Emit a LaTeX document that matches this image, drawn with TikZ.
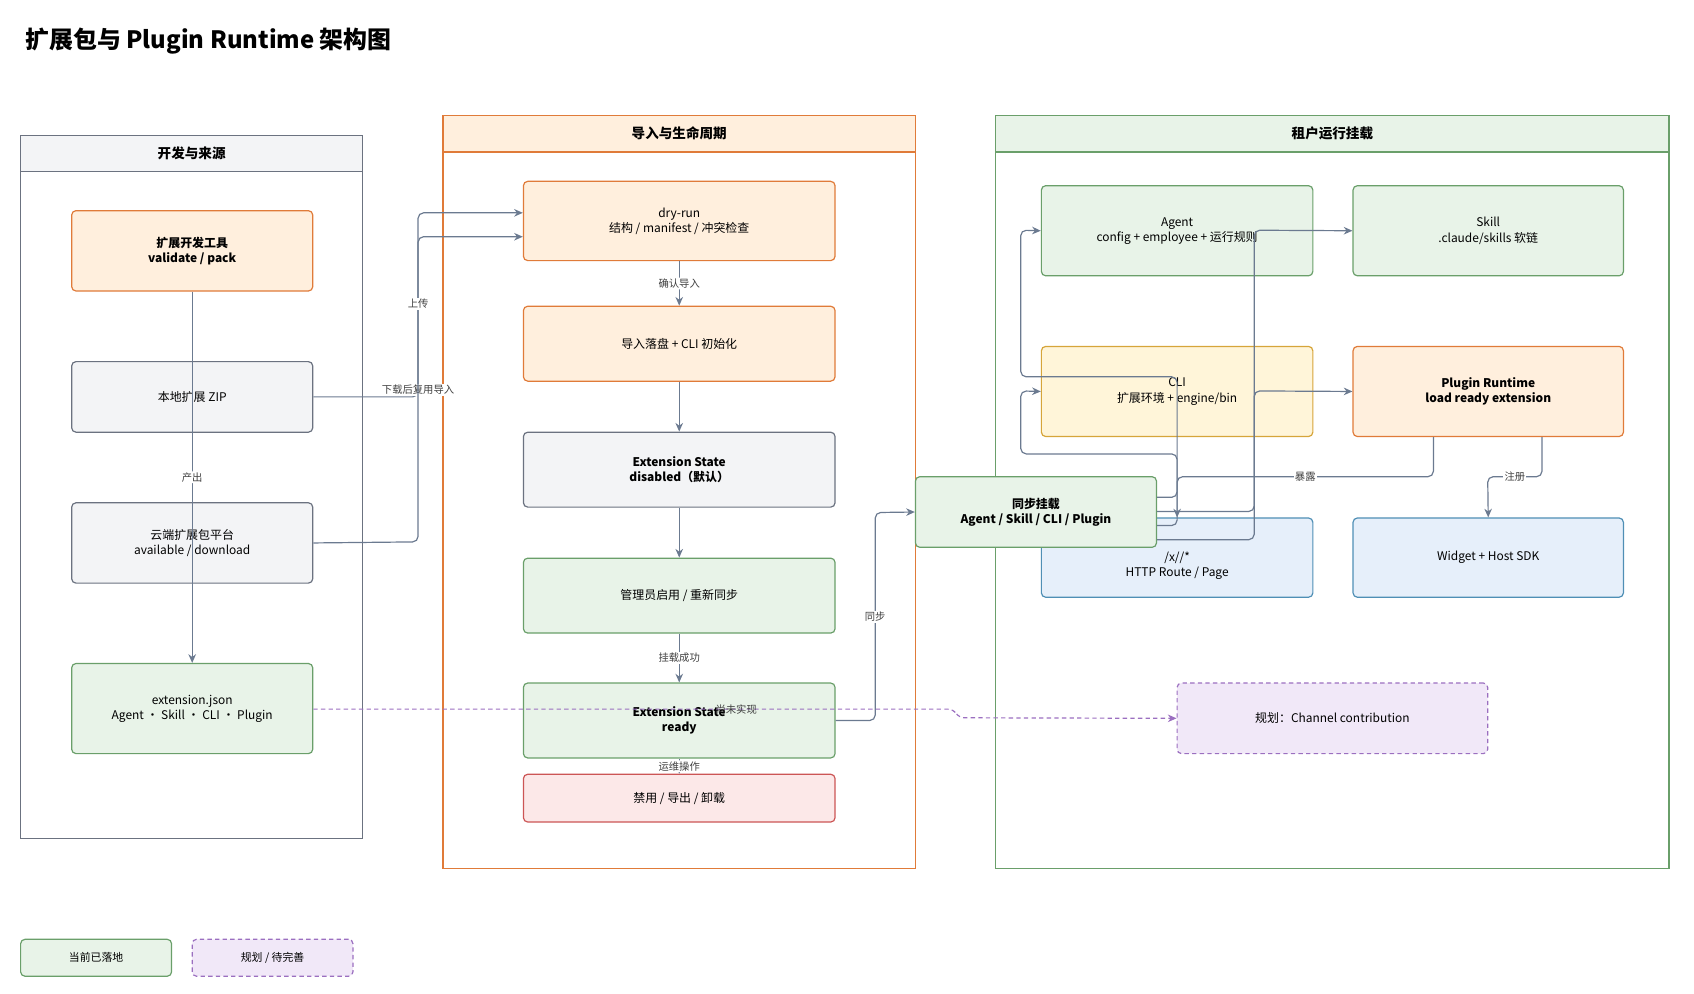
\documentclass[tikz,border=0pt]{standalone}
\usepackage{fontspec}
\setmainfont{Noto Sans CJK SC}
\usetikzlibrary{arrows.meta}
\definecolor{eg}{HTML}{6B7A90}
\definecolor{gF}{HTML}{E8F3E8}\definecolor{gD}{HTML}{6A9F6A}
\definecolor{oF}{HTML}{FFEFDD}\definecolor{oD}{HTML}{E07B39}
\definecolor{yF}{HTML}{FFF5D9}\definecolor{yD}{HTML}{D6A53A}
\definecolor{bF}{HTML}{E6EFFA}\definecolor{bD}{HTML}{4F8FB5}
\definecolor{rF}{HTML}{FCE8E8}\definecolor{rD}{HTML}{CC5555}
\definecolor{sF}{HTML}{F3F4F6}\definecolor{sD}{HTML}{6B7280}
\definecolor{pF}{HTML}{F1E8F8}\definecolor{pD}{HTML}{9B6FC0}
\tikzset{
 bx/.style={draw, rounded corners=4pt, line width=1.1pt, align=center, font=\fontsize{11}{14}\selectfont, inner sep=0pt},
 gb/.style={bx, fill=gF, draw=gD}, ob/.style={bx, fill=oF, draw=oD},
 yb/.style={bx, fill=yF, draw=yD}, bb/.style={bx, fill=bF, draw=bD},
 rb/.style={bx, fill=rF, draw=rD}, sb/.style={bx, fill=sF, draw=sD},
 pb/.style={bx, fill=pF, draw=pD, dash pattern=on 4pt off 3pt},
 bold/.style={font=\fontsize{11}{14}\selectfont\bfseries},
 ed/.style={draw=eg, line width=1.1pt, rounded corners=5pt, -{Stealth[length=8pt,width=7pt]}},
 lb/.style={fill=white, inner sep=1pt, font=\fontsize{9.5}{11}\selectfont, text=black!75},
 ph/.style={font=\fontsize{12.5}{15}\selectfont\bfseries},
}
\begin{document}
\begin{tikzpicture}[x=1pt,y=-1pt]
\useasboundingbox (0,0) rectangle (1560,915);
\node[anchor=west, font=\fontsize{22}{26}\selectfont\bfseries] (title) at (20,38) {扩展包与 Plugin Runtime 架构图};
% panels
\draw[draw=sD, line width=1.1pt] (19,125) rectangle (334,772);
\draw[draw=sD, fill=sF, line width=1.1pt] (19,125) rectangle (334,158);
\node[ph] (p1) at (176.5,141.5) {开发与来源};
\draw[draw=oD, line width=1.1pt] (408,106) rectangle (843,800);
\draw[draw=oD, fill=oF, line width=1.1pt] (408,106) rectangle (843,140);
\node[ph] (p2) at (625.5,123) {导入与生命周期};
\draw[draw=gD, line width=1.1pt] (917,106) rectangle (1537,800);
\draw[draw=gD, fill=gF, line width=1.1pt] (917,106) rectangle (1537,140);
\node[ph] (p3) at (1227,123) {租户运行挂载};
% left
\node[ob, bold, minimum width=222pt, minimum height=74pt] (A) at (177,231) {扩展开发工具\\validate / pack};
\node[sb, minimum width=222pt, minimum height=65pt] (B) at (177,365.5) {本地扩展 ZIP};
\node[sb, minimum width=222pt, minimum height=74pt] (C) at (177,500) {云端扩展包平台\\available / download};
\node[gb, minimum width=222pt, minimum height=83pt] (D) at (177,652.5) {extension.json\\Agent · Skill · CLI · Plugin};
% middle
\node[ob, minimum width=287pt, minimum height=73pt] (M1) at (625.5,203.5) {dry-run\\结构 / manifest / 冲突检查};
\node[ob, minimum width=287pt, minimum height=69pt] (M2) at (625.5,316.5) {导入落盘 + CLI 初始化};
\node[sb, bold, minimum width=287pt, minimum height=69pt] (M3) at (625.5,432.5) {Extension State\\disabled（默认）};
\node[gb, minimum width=287pt, minimum height=69pt] (M4) at (625.5,548.5) {管理员启用 / 重新同步};
\node[gb, bold, minimum width=287pt, minimum height=69pt] (M5) at (625.5,663.5) {Extension State\\ready};
\node[rb, minimum width=287pt, minimum height=44pt] (M6) at (625.5,735) {禁用 / 导出 / 卸载};
% right
\node[gb, minimum width=250pt, minimum height=83pt] (AG) at (1084,212.5) {Agent\\config + employee + 运行规则};
\node[gb, minimum width=249pt, minimum height=83pt] (SK) at (1370.5,212.5) {Skill\\.claude/skills 软链};
\node[yb, minimum width=250pt, minimum height=83pt] (CL) at (1084,360.5) {CLI\\扩展环境 + engine/bin};
\node[ob, bold, minimum width=249pt, minimum height=83pt] (PR) at (1370.5,360.5) {Plugin Runtime\\load ready extension};
\node[bb, minimum width=250pt, minimum height=73pt] (HT) at (1084,513.5) {\strut\\/x//*\\HTTP Route / Page};
\node[bb, minimum width=249pt, minimum height=73pt] (WG) at (1370.5,513.5) {Widget + Host SDK};
\node[pb, minimum width=286pt, minimum height=65pt] (CH) at (1227,661.5) {规划：Channel contribution};
% legend
\node[gb, minimum width=139pt, minimum height=34pt, font=\fontsize{10}{12}\selectfont] (L1) at (88.5,882) {当前已落地};
\node[pb, minimum width=148pt, minimum height=34pt, font=\fontsize{10}{12}\selectfont] (L2) at (251,882) {规划 / 待完善};
% edges left/middle
\draw[ed] (A.south) -- node[lb, pos=0.5] {产出} (D.north);
\draw[ed] (B.east) -- (385,365.5) -- (385,218) -- (M1.west |- 0,218);
\node[lb] (l1) at (385,359) {下载后复用导入};
\draw[ed] (C.east) -- (385,499) -- (385,196) -- (M1.west |- 0,196);
\node[lb] (l2) at (385,280) {上传};
\draw[ed] (M1.south) -- node[lb] {确认导入} (M2.north);
\draw[ed] (M2.south) -- (M3.north);
\draw[ed] (M3.south) -- (M4.north);
\draw[ed] (M4.south) -- node[lb] {挂载成功} (M5.north);
\draw[ed] (M5.south) -- node[lb] {运维操作} (M6.north);
% sync node
\node[gb, bold, minimum width=222pt, minimum height=65pt] (SY) at (954,471.5) {同步挂载\\Agent / Skill / CLI / Plugin};
\draw[ed] (M5.east) -- (806,663.5) -- (806,472) -- (SY.west);
\node[lb] (l3) at (806,568) {同步};
% dashed
\draw[draw=pD, line width=1.1pt, dash pattern=on 4pt off 3pt, rounded corners=5pt, -{Stealth[length=8pt,width=7pt]}] (D.east |- 0,653) -- (878,653) -- (883,661) -- (CH.west);
\node[lb, fill=none] (l4) at (678,653) {尚未实现};
% right edges
\draw[ed] (SY.east |- 0,484) -- (1084,484) -- (1084,347) -- (940,347) -- (940,212) -- (AG.west);
\draw[ed] (SY.east |- 0,458) -- (1084,458) -- (1084,418) -- (940,418) -- (940,360) -- (CL.west);
\draw[ed] (SY.east |- 0,471) -- (1155,471) -- (1155,212) -- (SK.west);
\draw[ed] (SY.east |- 0,497) -- (1155,497) -- (1155,360) -- (PR.west);
\draw[ed] (PR.south -| 1320,0) -- (1320,439) -- (1084,439) -- (HT.north);
\node[lb] (l5) at (1202,439) {暴露};
\draw[ed] (PR.south -| 1420,0) -- (1420,439) -- (1370,439) -- (WG.north);
\node[lb] (l6) at (1395,439) {注册};
\end{tikzpicture}
\end{document}
